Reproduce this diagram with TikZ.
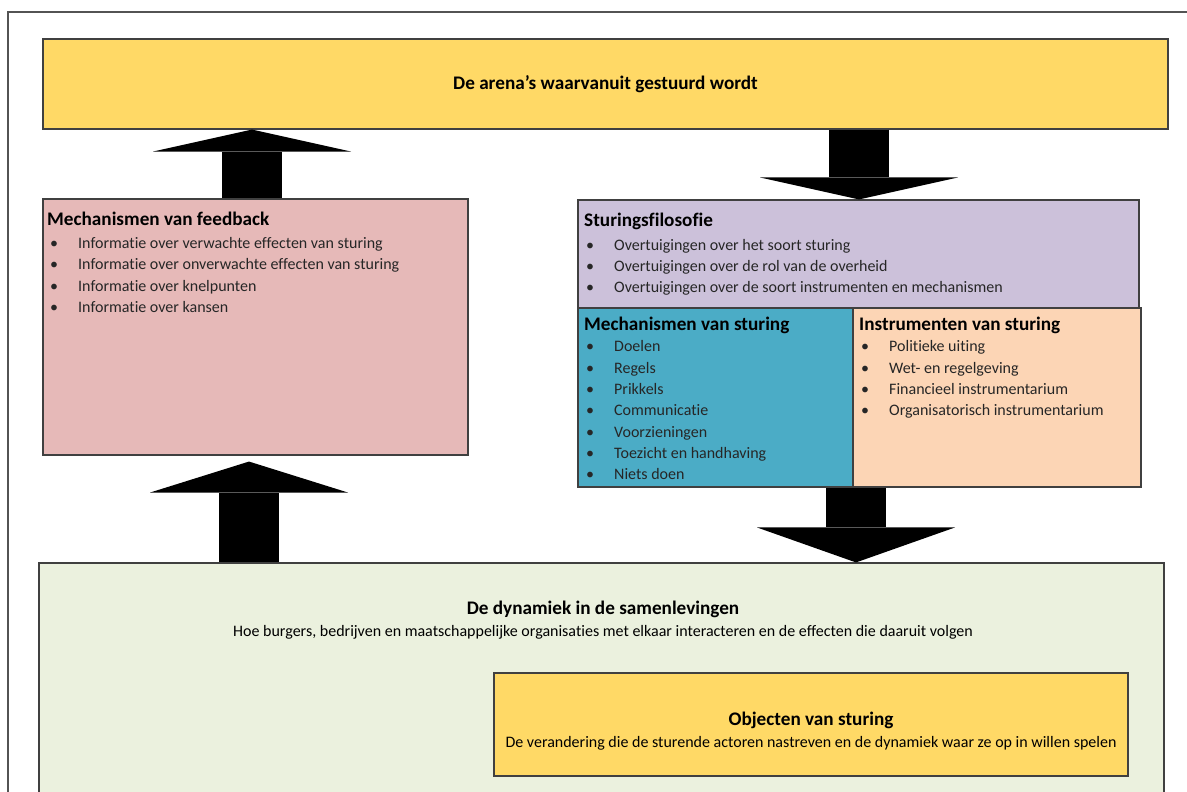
\documentclass[tikz,border=0pt]{standalone}
\usepackage{fontspec}
\setmainfont[Ligatures=NoCommon]{Carlito}
\usepackage{xcolor}
\usetikzlibrary{arrows.meta,calc}

\definecolor{geel}{HTML}{FFD966}
\definecolor{roze}{HTML}{E6B9B8}
\definecolor{lila}{HTML}{CCC1DA}
\definecolor{blauw}{HTML}{4BACC6}
\definecolor{perzik}{HTML}{FCD5B5}
\definecolor{lichtgroen}{HTML}{EBF1DE}
\definecolor{rand}{HTML}{404040}

\newcommand{\punt}{\makebox[28pt][l]{\textbullet}}

\begin{document}
\begin{tikzpicture}[
  x=1pt, y=-1pt,
  box/.style={draw=rand, line width=1.1pt, inner sep=0pt},
  kop/.style={font=\bfseries\fontsize{19.2}{22}\selectfont, inner sep=0pt},
  tekst/.style={font=\fontsize{16}{19}\selectfont, inner sep=0pt},
  % lijst wordt op de basislijn van de laatste regel gezet
  lijst/.style={anchor=base west, inner sep=0pt, align=left, font=\fontsize{16}{21.35}\selectfont, text=black!85},
  blokpijl/.style={line width=60pt, -{Triangle[length=#1, width=198pt, line width=0pt]}}
]
\useasboundingbox (0,0) rectangle (1187,792);
\clip (0,0) rectangle (1187,792);

% kader rond de figuur
\draw[rand!90, line width=1.5pt] (8,800) -- (8,12) -- (1200,12);

% blokken
\node[box, fill=geel, minimum width=1125pt, minimum height=90pt] (arena) at (605.5,84) {};
\node[box, fill=roze, minimum width=425pt, minimum height=256pt] (feedback) at (255.5,327) {};
\node[box, fill=lila, minimum width=561pt, minimum height=108pt] (filosofie) at (858.5,254) {};
\node[box, fill=blauw, minimum width=275pt, minimum height=179pt] (mechanismen) at (715.5,397.5) {};
\node[box, fill=perzik, minimum width=288pt, minimum height=179pt] (instrumenten) at (997,397.5) {};
\node[box, fill=lichtgroen, minimum width=1125pt, minimum height=260pt] (dynamiek) at (601.5,693) {};
\node[box, fill=geel, minimum width=634pt, minimum height=103pt] (objecten) at (811,724.5) {};

% teksten
\node[kop] (arenatitel) at (arena.center) {De arena’s waarvanuit gestuurd wordt};

\node[kop, anchor=base west] (fbkop) at (47,225) {Mechanismen van feedback};
\node[lijst] (fblijst) at (50,312.5) {%
  \punt Informatie over verwachte effecten van sturing\\
  \punt Informatie over onverwachte effecten van sturing\\
  \punt Informatie over knelpunten\\
  \punt Informatie over kansen};

\node[kop, anchor=base west] (filkop) at (584,226.5) {Sturingsfilosofie};
\node[lijst] (fillijst) at (586,292.7) {%
  \punt Overtuigingen over het soort sturing\\
  \punt Overtuigingen over de rol van de overheid\\
  \punt Overtuigingen over de soort instrumenten en mechanismen};

\node[kop, anchor=base west] (mechkop) at (584,330) {Mechanismen van sturing};
\node[lijst] (mechlijst) at (586,479.8) {%
  \punt Doelen\\
  \punt Regels\\
  \punt Prikkels\\
  \punt Communicatie\\
  \punt Voorzieningen\\
  \punt Toezicht en handhaving\\
  \punt Niets doen};

\node[kop, anchor=base west] (instrkop) at (859,330) {Instrumenten van sturing};
\node[lijst] (instrlijst) at (861,415.7) {%
  \punt Politieke uiting\\
  \punt Wet- en regelgeving\\
  \punt Financieel instrumentarium\\
  \punt Organisatorisch instrumentarium};

\node[kop] (dyntitel) at (603,609) {De dynamiek in de samenlevingen};
\node[tekst] (dyntekst) at (603,632) {Hoe burgers, bedrijven en maatschappelijke organisaties met elkaar interacteren en de effecten die daaruit volgen};

\node[kop] (objtitel) at (811,720) {Objecten van sturing};
\node[tekst] (objtekst) at (811,743) {De verandering die de sturende actoren nastreven en de dynamiek waar ze op in willen spelen};

% grote pijlen tussen de blokken
\coordinate (p1) at (252,0);
\coordinate (p2) at (249,0);
\coordinate (p3) at (859,0);
\coordinate (p4) at (856,0);
\draw[blokpijl=22pt] (feedback.north -| p1) -- (arena.south -| p1);
\draw[blokpijl=31pt] (dynamiek.north -| p2) -- ([yshift=-6pt]feedback.south -| p2);
\draw[blokpijl=22pt] (arena.south -| p3) -- (filosofie.north -| p3);
\draw[blokpijl=35pt] (mechanismen.south -| p4) -- (dynamiek.north -| p4);
\end{tikzpicture}
\end{document}
